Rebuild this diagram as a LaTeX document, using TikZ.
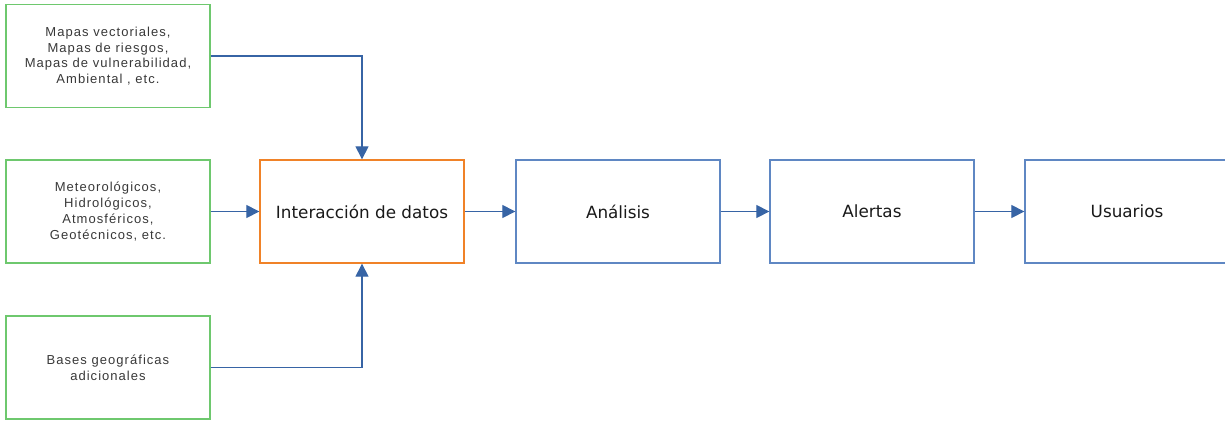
\documentclass[tikz,border=0pt]{standalone}
\usepackage{fontspec}
\setmainfont{DejaVu Sans}
\newfontfamily\smallfnt[LetterSpace=8]{Liberation Sans}
\usetikzlibrary{arrows.meta}
\definecolor{boxgreen}{RGB}{110,200,110}
\definecolor{boxorange}{RGB}{240,130,40}
\definecolor{boxblue}{RGB}{95,135,195}
\definecolor{arrblue}{RGB}{55,100,165}
\begin{document}
\begin{tikzpicture}[x=1pt,y=-1pt,
  src/.style={draw=boxgreen,line width=1.3pt,minimum width=204pt,minimum height=103pt,inner sep=0pt,align=center,font=\smallfnt\fontsize{13}{15.7}\selectfont,text=black!78},
  hub/.style={draw=boxorange,line width=1.3pt,minimum width=204pt,minimum height=103pt,inner sep=0pt,align=center,font=\fontsize{16.8}{19}\selectfont,text=black!90},
  stage/.style={draw=boxblue,line width=1.3pt,minimum width=204pt,minimum height=103pt,inner sep=0pt,align=center,font=\fontsize{16.8}{19}\selectfont,text=black!90},
  conn/.style={draw=arrblue,line width=1.1pt,-{Triangle[length=13pt,width=13pt]}},
  every node/.style={anchor=center}]
\useasboundingbox (0,0) rectangle (1225,421);
\clip (0,0) rectangle (1225,421);
\node[src] (maps) at (108,56) {Mapas vectoriales,\\Mapas de riesgos,\\Mapas de vulnerabilidad,\\Ambiental , etc.};
\node[src] (meteo) at (108,211.5) {Meteorológicos,\\Hidrológicos,\\Atmosféricos,\\Geotécnicos, etc.};
\node[src] (bases) at (108,367.5) {Bases geográficas\\adicionales};
\node[hub] (inter) at (362,211.5) {Interacción de datos};
\node[stage] (anal) at (618,211.5) {Análisis};
\node[stage] (alert) at (872,211.5) {Alertas};
\node[stage] (users) at (1127,211.5) {Usuarios};
\draw[conn] (maps.east) -| (inter.north);
\draw[conn] (bases.east) -| (inter.south);
\draw[conn] (meteo) -- (inter);
\draw[conn] (inter) -- (anal);
\draw[conn] (anal) -- (alert);
\draw[conn] (alert) -- (users);
\end{tikzpicture}
\end{document}
